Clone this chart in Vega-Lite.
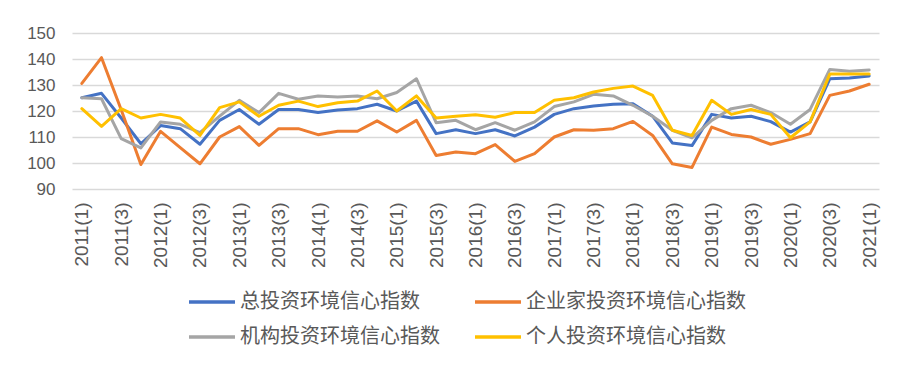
{
  "$schema": "https://vega.github.io/schema/vega-lite/v6.json",
  "width": 807,
  "height": 156,
  "autosize": {"type": "none"},
  "padding": {"left": 72, "top": 33, "right": 32, "bottom": 185},
  "background": "white",
  "config": {"view": {"stroke": null}, "font": "Liberation Sans"},
  "data": {"values": [
    {"q":"2011(1)","s":"总投资环境信心指数","v":125.1},
    {"q":"2011(2)","s":"总投资环境信心指数","v":126.8},
    {"q":"2011(3)","s":"总投资环境信心指数","v":117.3},
    {"q":"2011(4)","s":"总投资环境信心指数","v":107.4},
    {"q":"2012(1)","s":"总投资环境信心指数","v":114.4},
    {"q":"2012(2)","s":"总投资环境信心指数","v":113.2},
    {"q":"2012(3)","s":"总投资环境信心指数","v":107.2},
    {"q":"2012(4)","s":"总投资环境信心指数","v":116.4},
    {"q":"2013(1)","s":"总投资环境信心指数","v":120.6},
    {"q":"2013(2)","s":"总投资环境信心指数","v":114.9},
    {"q":"2013(3)","s":"总投资环境信心指数","v":120.6},
    {"q":"2013(4)","s":"总投资环境信心指数","v":120.6},
    {"q":"2014(1)","s":"总投资环境信心指数","v":119.4},
    {"q":"2014(2)","s":"总投资环境信心指数","v":120.4},
    {"q":"2014(3)","s":"总投资环境信心指数","v":120.9},
    {"q":"2014(4)","s":"总投资环境信心指数","v":122.6},
    {"q":"2015(1)","s":"总投资环境信心指数","v":120.0},
    {"q":"2015(2)","s":"总投资环境信心指数","v":123.8},
    {"q":"2015(3)","s":"总投资环境信心指数","v":111.3},
    {"q":"2015(4)","s":"总投资环境信心指数","v":112.8},
    {"q":"2016(1)","s":"总投资环境信心指数","v":111.3},
    {"q":"2016(2)","s":"总投资环境信心指数","v":112.8},
    {"q":"2016(3)","s":"总投资环境信心指数","v":110.4},
    {"q":"2016(4)","s":"总投资环境信心指数","v":113.8},
    {"q":"2017(1)","s":"总投资环境信心指数","v":118.7},
    {"q":"2017(2)","s":"总投资环境信心指数","v":120.9},
    {"q":"2017(3)","s":"总投资环境信心指数","v":121.9},
    {"q":"2017(4)","s":"总投资环境信心指数","v":122.6},
    {"q":"2018(1)","s":"总投资环境信心指数","v":122.8},
    {"q":"2018(2)","s":"总投资环境信心指数","v":118.0},
    {"q":"2018(3)","s":"总投资环境信心指数","v":107.7},
    {"q":"2018(4)","s":"总投资环境信心指数","v":106.7},
    {"q":"2019(1)","s":"总投资环境信心指数","v":118.7},
    {"q":"2019(2)","s":"总投资环境信心指数","v":117.3},
    {"q":"2019(3)","s":"总投资环境信心指数","v":118.0},
    {"q":"2019(4)","s":"总投资环境信心指数","v":115.9},
    {"q":"2020(1)","s":"总投资环境信心指数","v":111.9},
    {"q":"2020(2)","s":"总投资环境信心指数","v":115.8},
    {"q":"2020(3)","s":"总投资环境信心指数","v":132.4},
    {"q":"2020(4)","s":"总投资环境信心指数","v":132.7},
    {"q":"2021(1)","s":"总投资环境信心指数","v":133.5},

    {"q":"2011(1)","s":"企业家投资环境信心指数","v":130.6},
    {"q":"2011(2)","s":"企业家投资环境信心指数","v":140.5},
    {"q":"2011(3)","s":"企业家投资环境信心指数","v":120.5},
    {"q":"2011(4)","s":"企业家投资环境信心指数","v":99.4},
    {"q":"2012(1)","s":"企业家投资环境信心指数","v":112.2},
    {"q":"2012(2)","s":"企业家投资环境信心指数","v":105.9},
    {"q":"2012(3)","s":"企业家投资环境信心指数","v":99.7},
    {"q":"2012(4)","s":"企业家投资环境信心指数","v":110.0},
    {"q":"2013(1)","s":"企业家投资环境信心指数","v":114.0},
    {"q":"2013(2)","s":"企业家投资环境信心指数","v":106.8},
    {"q":"2013(3)","s":"企业家投资环境信心指数","v":113.2},
    {"q":"2013(4)","s":"企业家投资环境信心指数","v":113.2},
    {"q":"2014(1)","s":"企业家投资环境信心指数","v":110.9},
    {"q":"2014(2)","s":"企业家投资环境信心指数","v":112.2},
    {"q":"2014(3)","s":"企业家投资环境信心指数","v":112.2},
    {"q":"2014(4)","s":"企业家投资环境信心指数","v":116.2},
    {"q":"2015(1)","s":"企业家投资环境信心指数","v":111.9},
    {"q":"2015(2)","s":"企业家投资环境信心指数","v":116.4},
    {"q":"2015(3)","s":"企业家投资环境信心指数","v":102.9},
    {"q":"2015(4)","s":"企业家投资环境信心指数","v":104.2},
    {"q":"2016(1)","s":"企业家投资环境信心指数","v":103.6},
    {"q":"2016(2)","s":"企业家投资环境信心指数","v":107.1},
    {"q":"2016(3)","s":"企业家投资环境信心指数","v":100.6},
    {"q":"2016(4)","s":"企业家投资环境信心指数","v":103.6},
    {"q":"2017(1)","s":"企业家投资环境信心指数","v":110.0},
    {"q":"2017(2)","s":"企业家投资环境信心指数","v":112.8},
    {"q":"2017(3)","s":"企业家投资环境信心指数","v":112.6},
    {"q":"2017(4)","s":"企业家投资环境信心指数","v":113.2},
    {"q":"2018(1)","s":"企业家投资环境信心指数","v":116.0},
    {"q":"2018(2)","s":"企业家投资环境信心指数","v":110.6},
    {"q":"2018(3)","s":"企业家投资环境信心指数","v":99.7},
    {"q":"2018(4)","s":"企业家投资环境信心指数","v":98.3},
    {"q":"2019(1)","s":"企业家投资环境信心指数","v":113.8},
    {"q":"2019(2)","s":"企业家投资环境信心指数","v":111.0},
    {"q":"2019(3)","s":"企业家投资环境信心指数","v":110.0},
    {"q":"2019(4)","s":"企业家投资环境信心指数","v":107.2},
    {"q":"2020(1)","s":"企业家投资环境信心指数","v":109.1},
    {"q":"2020(2)","s":"企业家投资环境信心指数","v":111.3},
    {"q":"2020(3)","s":"企业家投资环境信心指数","v":126.0},
    {"q":"2020(4)","s":"企业家投资环境信心指数","v":127.7},
    {"q":"2021(1)","s":"企业家投资环境信心指数","v":130.3},

    {"q":"2011(1)","s":"机构投资环境信心指数","v":125.1},
    {"q":"2011(2)","s":"机构投资环境信心指数","v":124.7},
    {"q":"2011(3)","s":"机构投资环境信心指数","v":109.4},
    {"q":"2011(4)","s":"机构投资环境信心指数","v":105.8},
    {"q":"2012(1)","s":"机构投资环境信心指数","v":115.8},
    {"q":"2012(2)","s":"机构投资环境信心指数","v":114.9},
    {"q":"2012(3)","s":"机构投资环境信心指数","v":111.7},
    {"q":"2012(4)","s":"机构投资环境信心指数","v":118.0},
    {"q":"2013(1)","s":"机构投资环境信心指数","v":124.1},
    {"q":"2013(2)","s":"机构投资环境信心指数","v":119.4},
    {"q":"2013(3)","s":"机构投资环境信心指数","v":126.8},
    {"q":"2013(4)","s":"机构投资环境信心指数","v":124.5},
    {"q":"2014(1)","s":"机构投资环境信心指数","v":125.8},
    {"q":"2014(2)","s":"机构投资环境信心指数","v":125.4},
    {"q":"2014(3)","s":"机构投资环境信心指数","v":125.8},
    {"q":"2014(4)","s":"机构投资环境信心指数","v":124.7},
    {"q":"2015(1)","s":"机构投资环境信心指数","v":127.1},
    {"q":"2015(2)","s":"机构投资环境信心指数","v":132.4},
    {"q":"2015(3)","s":"机构投资环境信心指数","v":115.5},
    {"q":"2015(4)","s":"机构投资环境信心指数","v":116.4},
    {"q":"2016(1)","s":"机构投资环境信心指数","v":112.8},
    {"q":"2016(2)","s":"机构投资环境信心指数","v":115.5},
    {"q":"2016(3)","s":"机构投资环境信心指数","v":112.6},
    {"q":"2016(4)","s":"机构投资环境信心指数","v":115.8},
    {"q":"2017(1)","s":"机构投资环境信心指数","v":121.7},
    {"q":"2017(2)","s":"机构投资环境信心指数","v":123.5},
    {"q":"2017(3)","s":"机构投资环境信心指数","v":126.4},
    {"q":"2017(4)","s":"机构投资环境信心指数","v":125.8},
    {"q":"2018(1)","s":"机构投资环境信心指数","v":122.2},
    {"q":"2018(2)","s":"机构投资环境信心指数","v":118.0},
    {"q":"2018(3)","s":"机构投资环境信心指数","v":112.6},
    {"q":"2018(4)","s":"机构投资环境信心指数","v":109.7},
    {"q":"2019(1)","s":"机构投资环境信心指数","v":116.4},
    {"q":"2019(2)","s":"机构投资环境信心指数","v":120.9},
    {"q":"2019(3)","s":"机构投资环境信心指数","v":122.2},
    {"q":"2019(4)","s":"机构投资环境信心指数","v":119.4},
    {"q":"2020(1)","s":"机构投资环境信心指数","v":114.9},
    {"q":"2020(2)","s":"机构投资环境信心指数","v":120.6},
    {"q":"2020(3)","s":"机构投资环境信心指数","v":136.0},
    {"q":"2020(4)","s":"机构投资环境信心指数","v":135.3},
    {"q":"2021(1)","s":"机构投资环境信心指数","v":135.8},

    {"q":"2011(1)","s":"个人投资环境信心指数","v":120.9},
    {"q":"2011(2)","s":"个人投资环境信心指数","v":114.1},
    {"q":"2011(3)","s":"个人投资环境信心指数","v":120.9},
    {"q":"2011(4)","s":"个人投资环境信心指数","v":117.3},
    {"q":"2012(1)","s":"个人投资环境信心指数","v":118.7},
    {"q":"2012(2)","s":"个人投资环境信心指数","v":117.3},
    {"q":"2012(3)","s":"个人投资环境信心指数","v":110.6},
    {"q":"2012(4)","s":"个人投资环境信心指数","v":121.3},
    {"q":"2013(1)","s":"个人投资环境信心指数","v":123.5},
    {"q":"2013(2)","s":"个人投资环境信心指数","v":118.0},
    {"q":"2013(3)","s":"个人投资环境信心指数","v":122.2},
    {"q":"2013(4)","s":"个人投资环境信心指数","v":123.8},
    {"q":"2014(1)","s":"个人投资环境信心指数","v":121.7},
    {"q":"2014(2)","s":"个人投资环境信心指数","v":123.2},
    {"q":"2014(3)","s":"个人投资环境信心指数","v":123.8},
    {"q":"2014(4)","s":"个人投资环境信心指数","v":127.7},
    {"q":"2015(1)","s":"个人投资环境信心指数","v":120.0},
    {"q":"2015(2)","s":"个人投资环境信心指数","v":125.8},
    {"q":"2015(3)","s":"个人投资环境信心指数","v":117.3},
    {"q":"2015(4)","s":"个人投资环境信心指数","v":118.0},
    {"q":"2016(1)","s":"个人投资环境信心指数","v":118.6},
    {"q":"2016(2)","s":"个人投资环境信心指数","v":117.6},
    {"q":"2016(3)","s":"个人投资环境信心指数","v":119.4},
    {"q":"2016(4)","s":"个人投资环境信心指数","v":119.4},
    {"q":"2017(1)","s":"个人投资环境信心指数","v":124.1},
    {"q":"2017(2)","s":"个人投资环境信心指数","v":125.1},
    {"q":"2017(3)","s":"个人投资环境信心指数","v":127.3},
    {"q":"2017(4)","s":"个人投资环境信心指数","v":128.7},
    {"q":"2018(1)","s":"个人投资环境信心指数","v":129.6},
    {"q":"2018(2)","s":"个人投资环境信心指数","v":126.0},
    {"q":"2018(3)","s":"个人投资环境信心指数","v":112.6},
    {"q":"2018(4)","s":"个人投资环境信心指数","v":110.6},
    {"q":"2019(1)","s":"个人投资环境信心指数","v":124.1},
    {"q":"2019(2)","s":"个人投资环境信心指数","v":118.7},
    {"q":"2019(3)","s":"个人投资环境信心指数","v":120.6},
    {"q":"2019(4)","s":"个人投资环境信心指数","v":118.7},
    {"q":"2020(1)","s":"个人投资环境信心指数","v":109.7},
    {"q":"2020(2)","s":"个人投资环境信心指数","v":115.8},
    {"q":"2020(3)","s":"个人投资环境信心指数","v":134.2},
    {"q":"2020(4)","s":"个人投资环境信心指数","v":134.2},
    {"q":"2021(1)","s":"个人投资环境信心指数","v":134.2}
  ]},
  "mark": {"type": "line", "strokeWidth": 3, "strokeJoin": "round", "strokeCap": "round"},
  "encoding": {
    "x": {
      "field": "q", "type": "ordinal", "sort": null,
      "scale": {"type": "point", "padding": 0.5},
      "axis": {
        "title": null, "labelAngle": -90, "ticks": false, "domain": false, "grid": false,
        "values": ["2011(1)","2011(3)","2012(1)","2012(3)","2013(1)","2013(3)","2014(1)","2014(3)","2015(1)","2015(3)","2016(1)","2016(3)","2017(1)","2017(3)","2018(1)","2018(3)","2019(1)","2019(3)","2020(1)","2020(3)","2021(1)"],
        "labelFont": "Liberation Sans Narrow, Liberation Sans", "labelFontSize": 19, "labelColor": "#595959", "labelPadding": 13
      }
    },
    "y": {
      "field": "v", "type": "quantitative",
      "scale": {"domain": [90, 150], "zero": false, "nice": false},
      "axis": {
        "title": null, "values": [90, 100, 110, 120, 130, 140, 150], "ticks": false, "domain": false,
        "gridColor": "#D9D9D9", "gridWidth": 1.5,
        "labelFont": "Liberation Sans", "labelFontSize": 17, "labelColor": "#595959", "labelPadding": 17
      }
    },
    "color": {
      "field": "s", "type": "nominal",
      "scale": {
        "domain": ["总投资环境信心指数", "企业家投资环境信心指数", "机构投资环境信心指数", "个人投资环境信心指数"],
        "range": ["#4472C4", "#ED7D31", "#A5A5A5", "#FFC000"]
      },
      "legend": {
        "title": null, "orient": "none", "legendX": 115, "legendY": 244,
        "direction": "horizontal", "columns": 2,
        "symbolType": "stroke", "symbolSize": 2116, "symbolStrokeWidth": 3.5,
        "labelFont": "Noto Sans CJK SC", "labelFontSize": 20, "labelColor": "#595959",
        "labelOffset": 3, "columnPadding": 28, "rowPadding": -9, "labelLimit": 400
      }
    }
  }
}
